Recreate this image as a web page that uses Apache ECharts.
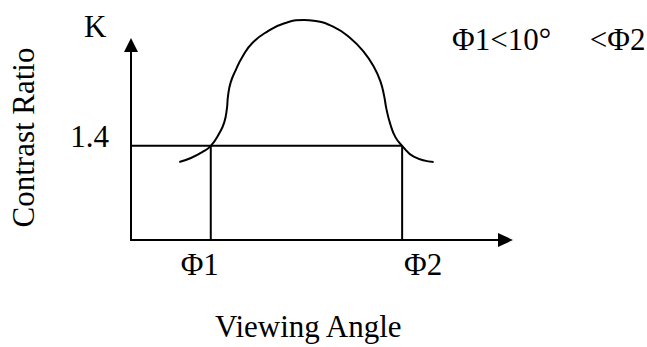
<!DOCTYPE html>
<html>
<head>
<meta charset="utf-8">
<script src="https://cdn.jsdelivr.net/npm/echarts@6/dist/echarts.min.js"></script>
<style>
html,body{margin:0;padding:0;background:#fff;}
#c{width:647px;height:347px;}
</style>
</head>
<body>
<div id="c"></div>
<script>
// Contrast ratio K versus viewing angle (schematic curve)
const curveAngle = [12.9, 16.0, 19.1, 21.3, 23.5, 24.9, 25.6, 25.9, 26.6, 28.0, 29.8, 32.4, 36.4, 40.8, 46.2, 48.8, 54.1, 58.6, 62.1, 64.8, 66.6, 67.6, 68.2, 69.2, 70.6, 72.4, 75.5, 80.8];
const curveContrast = [1.16, 1.22, 1.31, 1.40, 1.58, 1.75, 1.95, 2.14, 2.34, 2.53, 2.73, 2.93, 3.10, 3.22, 3.27, 3.26, 3.17, 3.00, 2.80, 2.58, 2.36, 2.14, 1.95, 1.73, 1.53, 1.40, 1.24, 1.16];
const thresholdK = [1.4];
const thresholdLabels = ['1.4'];
const phiAngles = [21.3, 72.4];
const phiLabels = ['Φ1', 'Φ2'];
const xAxisTitle = 'Viewing Angle';
const yAxisTitle = 'Contrast Ratio';
const yAxisSymbol = 'K';
const noteText = 'Φ1<10°     <Φ2';

const FONT = 'Liberation Serif';
const FS = 31;
const BLACK = '#000';

const curveData = curveAngle.map((a, i) => [a, curveContrast[i]]);
const kLevel = thresholdK[0];

const series = [
  {
    type: 'line', data: curveData, smooth: 0.5, showSymbol: false, clip: false,
    lineStyle: {color: BLACK, width: 2}, silent: true
  },
  {
    type: 'line', data: [[0, kLevel], [phiAngles[1], kLevel]], showSymbol: false, clip: false,
    lineStyle: {color: BLACK, width: 2}, silent: true
  }
];
phiAngles.forEach(p => {
  series.push({
    type: 'line', data: [[p, 0], [p, kLevel]], showSymbol: false, clip: false,
    lineStyle: {color: BLACK, width: 2}, silent: true
  });
});

const chart = echarts.init(document.getElementById('c'), null, {renderer: 'svg'});
chart.setOption({
  animation: false,
  backgroundColor: '#fff',
  textStyle: {fontFamily: FONT, color: BLACK},
  title: [
    {text: yAxisSymbol, left: 84, top: 11, padding: 0,
     textStyle: {fontFamily: FONT, fontSize: FS, fontWeight: 'normal', color: BLACK}},
    {text: noteText, left: 452, top: 24, padding: 0,
     textStyle: {fontFamily: FONT, fontSize: FS, fontWeight: 'normal', color: BLACK}}
  ],
  grid: {left: 130, right: 141.5, top: 45, bottom: 104, containLabel: false},
  xAxis: {
    type: 'value', min: 0, max: 100,
    splitLine: {show: false},
    axisTick: {show: false},
    axisLine: {show: true, onZero: false, lineStyle: {color: BLACK, width: 2},
               symbol: ['none', 'triangle'], symbolSize: [14, 15]},
    axisLabel: {
      customValues: phiAngles,
      margin: 9,
      formatter: v => {
        const i = phiAngles.indexOf(v);
        return i === 0 ? '{a|' + phiLabels[0] + '}' : '{b|' + phiLabels[i] + '}';
      },
      rich: {
        a: {fontFamily: FONT, fontSize: FS, color: BLACK, padding: [0, 22, 0, 0]},
        b: {fontFamily: FONT, fontSize: FS, color: BLACK, padding: [0, 0, 0, 42]}
      }
    },
    name: xAxisTitle, nameLocation: 'middle', nameGap: 71,
    nameTextStyle: {fontFamily: FONT, fontSize: FS, color: BLACK, padding: [0, 20, 0, 0]}
  },
  yAxis: {
    type: 'value', min: 0, max: 2.9,
    splitLine: {show: false},
    axisTick: {show: false},
    axisLine: {show: true, onZero: false, lineStyle: {color: BLACK, width: 2},
               symbol: ['none', 'triangle'], symbolSize: [14, 14]},
    axisLabel: {
      customValues: thresholdK,
      margin: 22,
      formatter: v => thresholdLabels[thresholdK.indexOf(v)],
      fontFamily: FONT, fontSize: FS, color: BLACK,
      verticalAlign: 'bottom', lineHeight: 18
    },
    name: yAxisTitle, nameLocation: 'middle', nameGap: 92,
    nameTextStyle: {fontFamily: FONT, fontSize: FS, color: BLACK, padding: [0, 0, 0, 10]}
  },
  series: series
});
</script>
</body>
</html>
